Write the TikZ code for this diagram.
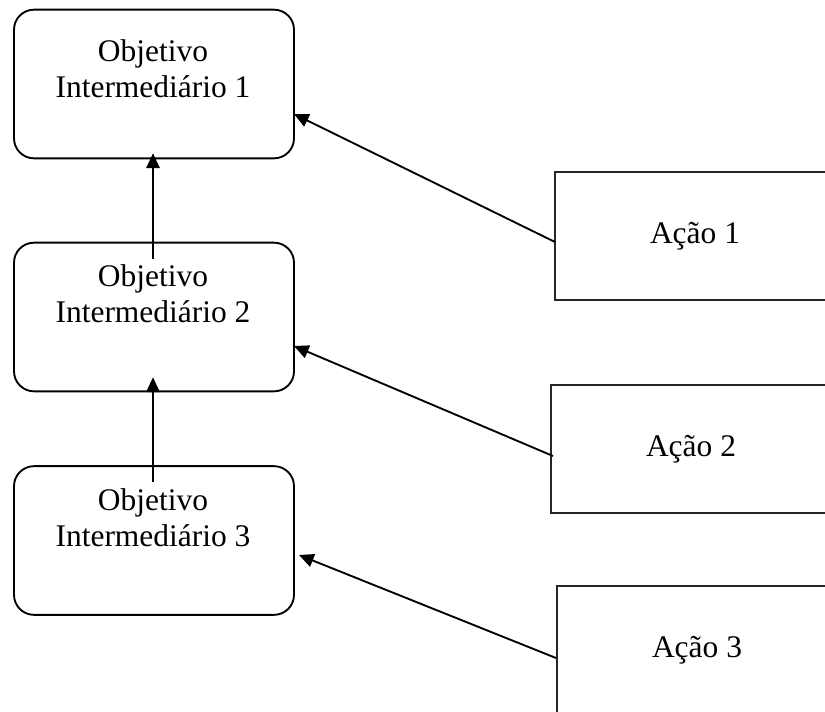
\documentclass[tikz,border=0pt]{standalone}
\usepackage{fontspec}
\setmainfont{Liberation Serif}
\usetikzlibrary{arrows.meta,calc}
\begin{document}
\begin{tikzpicture}[x=0.75pt,y=-0.75pt,
  objbox/.style={draw=black,line width=1.4pt,rounded corners=15pt,
    minimum width=210pt,minimum height=111.5pt,inner sep=0pt,outer sep=0pt},
  objtext/.style={anchor=north,align=center,inner sep=0pt,
    font=\fontsize{23.6}{27}\selectfont},
  actbox/.style={draw=black!85,line width=1.1pt,minimum width=210pt,
    minimum height=96pt,inner sep=0pt,outer sep=0pt,
    font=\fontsize{23.6}{27}\selectfont},
  arr/.style={line width=1.4pt,-{Triangle[length=11pt,width=10pt]}}]
  \useasboundingbox (0,0) rectangle (825,711);
  \clip (0,0) rectangle (825,711);

  % intermediate objectives
  \node[objbox] (o1) at (154,84) {};
  \node[objbox] (o2) at (154,317) {};
  \node[objbox] (o3) at (154,540.5) {};
  \node[objtext] (t1) at ($(o1.north)+(-1,30)$) {Objetivo\\Intermediário 1};
  \node[objtext] (t2) at ($(o2.north)+(-1,22)$) {Objetivo\\Intermediário 2};
  \node[objtext] (t3) at ($(o3.north)+(-1,22)$) {Objetivo\\Intermediário 3};

  % actions
  \node[actbox] (a1) at (695,236) {Ação 1};
  \node[actbox] (a2) at (691,449) {Ação 2};
  \node[actbox] (a3) at (697,650) {Ação 3};

  % objective chain
  \draw[arr] ($(o2.north)+(-1,16)$) -- ($(o1.south)+(-1,-5)$);
  \draw[arr] ($(o3.north)+(-1,16)$) -- ($(o2.south)+(-1,-14)$);

  % actions feeding objectives
  \draw[arr] ($(a1.west)+(0,6)$) -- ($(o1.east)+(0,30)$);
  \draw[arr] ($(a2.west)+(2,7)$) -- ($(o2.east)+(0,29)$);
  \draw[arr] ($(a3.west)+(-1,8)$) -- ($(o3.east)+(5,14.5)$);
\end{tikzpicture}
\end{document}
